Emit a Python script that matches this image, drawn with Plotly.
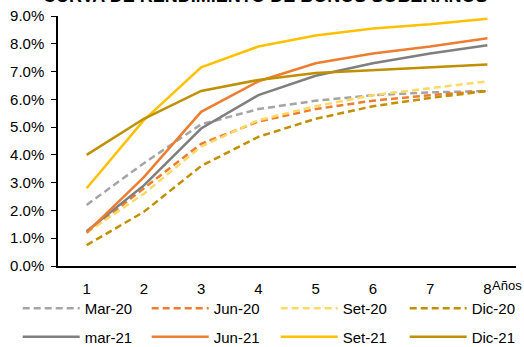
import plotly.graph_objects as go

# Plazos en años
plazos = [1, 2, 3, 4, 5, 6, 7, 8]

# Rendimientos (%) por fecha de corte
mar_20 = [2.2, 3.7, 5.1, 5.65, 5.95, 6.15, 6.25, 6.3]
jun_20 = [1.2, 2.8, 4.4, 5.2, 5.65, 5.95, 6.15, 6.3]
set_20 = [1.2, 2.6, 4.3, 5.25, 5.75, 6.15, 6.4, 6.65]
dic_20 = [0.75, 1.95, 3.6, 4.65, 5.3, 5.75, 6.05, 6.3]
mar_21 = [1.25, 2.9, 4.95, 6.15, 6.85, 7.3, 7.65, 7.95]
jun_21 = [1.2, 3.2, 5.55, 6.65, 7.3, 7.65, 7.9, 8.2]
set_21 = [2.8, 5.25, 7.15, 7.9, 8.3, 8.55, 8.7, 8.9]
dic_21 = [4.0, 5.3, 6.3, 6.7, 6.95, 7.05, 7.15, 7.25]

# (nombre, valores, color, trazo, leyenda)
series = [
    ("Mar-20", mar_20, "#A5A5A5", "7px,4px", "legend"),
    ("Jun-20", jun_20, "#ED7D31", "7px,4px", "legend"),
    ("Set-20", set_20, "#FFD966", "7px,4px", "legend"),
    ("Dic-20", dic_20, "#C09000", "7px,4px", "legend"),
    ("mar-21", mar_21, "#7F7F7F", "solid", "legend2"),
    ("Jun-21", jun_21, "#ED7D31", "solid", "legend2"),
    ("Set-21", set_21, "#FFC000", "solid", "legend2"),
    ("Dic-21", dic_21, "#BF9000", "solid", "legend2"),
]

FONT = "Liberation Sans, Arial, sans-serif"

fig = go.Figure()
for name, vals, color, dash, leg in series:
    fig.add_trace(go.Scatter(
        x=plazos, y=vals, name=name, mode="lines", legend=leg,
        line=dict(color=color, width=2.5, dash=dash),
    ))

# Una fila de leyenda por año, bajo el eje de plazos
legend_common = dict(
    orientation="h", xref="paper", yref="paper",
    x=-0.088, xanchor="left", yanchor="middle",
    entrywidth=57, itemwidth=57, tracegroupgap=0,
    font=dict(family=FONT, size=15, color="black"),
    bgcolor="rgba(0,0,0,0)",
)

fig.update_layout(
    width=524, height=347,
    margin=dict(l=58, r=8, t=16, b=81, autoexpand=False),
    paper_bgcolor="white", plot_bgcolor="white",
    font=dict(family=FONT, size=15, color="black"),
    showlegend=True,
    legend=dict(legend_common, y=-0.17),
    legend2=dict(legend_common, y=-0.284),
    xaxis=dict(
        range=[0.5, 8.5], tickmode="array", tickvals=plazos,
        ticktext=[str(p) for p in plazos],
        showgrid=False, zeroline=False, showline=True,
        linecolor="black", linewidth=1.5, ticks="",
        ticklabelstandoff=8,
    ),
    yaxis=dict(
        range=[0, 9], dtick=1, tickformat=".1f", ticksuffix="%",
        showgrid=False, zeroline=False, showline=True,
        linecolor="black", linewidth=1.5, ticks="outside", ticklen=5,
        tickcolor="black", ticklabelstandoff=4,
    ),
    annotations=[
        dict(text="<b>CURVA DE RENDIMIENTO DE BONOS SOBERANOS</b>",
             xref="paper", yref="paper", x=0.452, y=1, xanchor="center",
             yanchor="bottom", yshift=8, showarrow=False,
             font=dict(family=FONT, size=18, color="black")),
        dict(text="Años", xref="paper", yref="paper", x=1.0, y=0,
             xanchor="right", yanchor="top", yshift=-10, xshift=8,
             showarrow=False, font=dict(family=FONT, size=13, color="black")),
    ],
)

fig.write_html("out.html")
